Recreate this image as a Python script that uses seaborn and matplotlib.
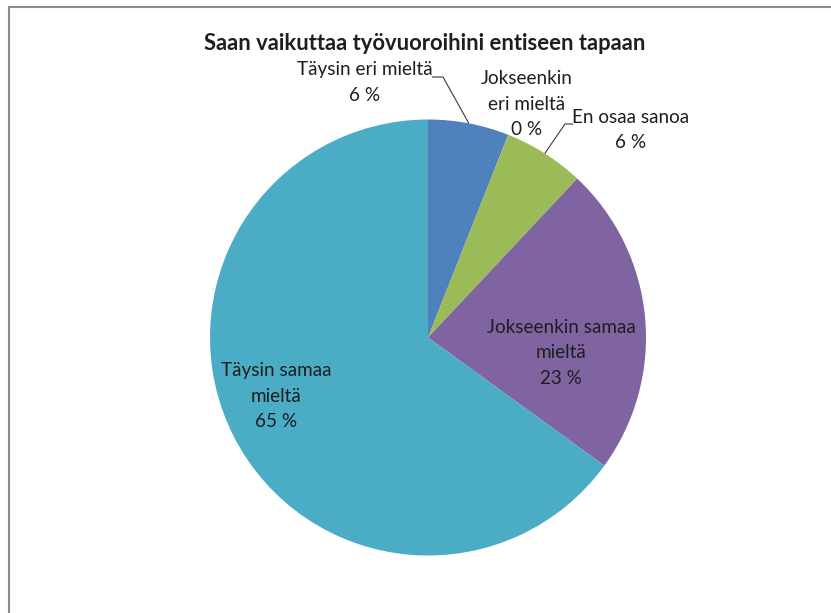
import numpy as np
import matplotlib
matplotlib.use("Agg")
import matplotlib.pyplot as plt
import seaborn as sns

# Survey answers (share of respondents, %)
categories = ["Täysin eri mieltä", "Jokseenkin eri mieltä", "En osaa sanoa",
              "Jokseenkin samaa mieltä", "Täysin samaa mieltä"]
shares = [6, 0, 6, 23, 65]
label_texts = ["Täysin eri mieltä", "Jokseenkin\neri mieltä", "En osaa sanoa",
               "Jokseenkin samaa\nmieltä", "Täysin samaa\nmieltä"]
title = "Saan vaikuttaa työvuoroihini entiseen tapaan"

sns.set_theme(style="white")
plt.rcParams["font.family"] = ["Lato", "DejaVu Sans"]

W, H = 831, 613
fig = plt.figure(figsize=(W / 100, H / 100), dpi=100)
fig.patch.set_facecolor("white")
ax = fig.add_axes([0, 0, 1, 1])

palette = sns.color_palette(["#4F81BD", "#C0504D", "#9BBB59", "#8064A2", "#4BACC6"])
cx, cy, r = 428, H - 337.5, 218

wedges, _ = ax.pie(shares, colors=palette, startangle=90, counterclock=False,
                   center=(cx, cy), radius=r, wedgeprops=dict(linewidth=0))
ax.set_xlim(0, W)
ax.set_ylim(0, H)
ax.set_aspect("equal")
ax.axis("off")

renderer = fig.canvas.get_renderer()


def fit_size(text, target_px, weight="normal"):
    t = fig.text(0, 0, text, fontsize=10, fontweight=weight)
    w = t.get_window_extent(renderer).width
    t.remove()
    return 10 * target_px / w


label_fs = fit_size("Jokseenkin samaa", 148)
title_fs = fit_size(title, 442, "bold")
text_color = "#1e1e1e"

ax.text(425, H - 43, title, ha="center", va="center", fontsize=title_fs,
        fontweight="bold", color=text_color)

# label centres (x, y from top)
label_pos = [(365, 82.5), (527, 104), (631, 130), (561, 353), (276, 396)]
for name, share, (lx, ly) in zip(label_texts, shares, label_pos):
    ax.text(lx, H - ly, f"{name}\n{share} %", ha="center", va="center",
            fontsize=label_fs, color=text_color, linespacing=1.58)


def edge_point(w):
    mid = np.deg2rad((w.theta1 + w.theta2) / 2)
    return cx + r * np.cos(mid), cy + r * np.sin(mid)


# leader lines for the small outside labels
for idx, start, knee in [(0, (432, 77), (443, 77)), (2, (573, 124), (565, 124))]:
    ex, ey = edge_point(wedges[idx])
    ax.plot([start[0], knee[0], ex], [H - start[1], H - knee[1], ey],
            color="#3a3a3a", lw=0.8, solid_capstyle="butt")

# chart-area border (top and left edges)
ax.plot([8.5, 8.5, W], [0, H - 6.5, H - 6.5], color="#8c8c8c", lw=1.5,
        clip_on=False, solid_joinstyle="miter")

fig.savefig("out.png", dpi=100, facecolor="white")
